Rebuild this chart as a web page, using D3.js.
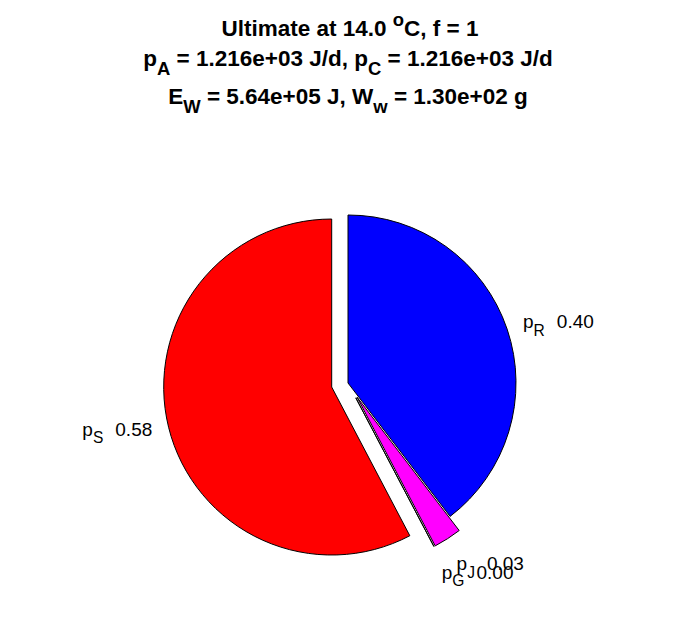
<!DOCTYPE html>
<html>
<head>
<meta charset="utf-8">
<script src="https://cdn.jsdelivr.net/npm/d3@7"></script>
<style>
  html, body { margin: 0; padding: 0; background: #fff; }
  svg { display: block; }
</style>
</head>
<body>
<svg id="chart" width="696" height="618"></svg>
<script>
// ---- data ----
const categories = ["S", "G", "J", "R"];
const values = [0.577, 0.0, 0.027, 0.396];
const colors = ["#ff0000", "#00ff00", "#ff00ff", "#0000ff"];
const exploded = [true, true, true, false];

const titleLine1 = [{t: "Ultimate at 14.0 "}, {t: "o", sup: true}, {t: "C, f = 1"}];
const titleLine2 = [{t: "p"}, {t: "A", sub: true}, {t: " = 1.216e+03 J/d, p"}, {t: "C", sub: true}, {t: " = 1.216e+03 J/d"}];
const titleLine3 = [{t: "E"}, {t: "W", sub: true}, {t: " = 5.64e+05 J, W"}, {t: "w", sub: true}, {t: " = 1.30e+02 g"}];

// ---- layout ----
const W = 696, H = 618;
const cx = 348, cy = 383;
const rScale = d3.scaleLinear().domain([0, 1]).range([0, 168]);

const svg = d3.select("#chart");

// title
const titleFs = 22.5;
function drawRich(g, parts, x, y, fs, weight, anchor) {
  const t = g.append("text")
    .attr("x", x).attr("y", y)
    .attr("text-anchor", anchor)
    .attr("font-family", "'Liberation Sans', Arial, Helvetica, sans-serif")
    .attr("font-weight", weight)
    .attr("font-size", fs)
    .attr("fill", "#000")
    .attr("xml:space", "preserve");
  let shift = 0;
  parts.forEach(p => {
    let target = 0, size = fs;
    if (p.sub) { target = fs * 0.38; size = fs * 0.82; }
    if (p.sup) { target = -fs * 0.45; size = fs * 0.82; }
    const ts = t.append("tspan").text(p.t).attr("font-size", size);
    if (target !== shift) { ts.attr("dy", target - shift); shift = target; }
    if (p.dx) ts.attr("dx", p.dx);
  });
  return t;
}

const tg = svg.append("g");
drawRich(tg, titleLine1, cx + 2, 36, titleFs, "bold", "middle");
drawRich(tg, titleLine2, cx, 66, titleFs, "bold", "middle");
drawRich(tg, titleLine3, cx, 104, titleFs, "bold", "middle");

// pie (counter-clockwise from top, like MATLAB)
const pie = d3.pie().sort(null).value(d => d.v).startAngle(0).endAngle(-2 * Math.PI);
const data = categories.map((c, i) => ({c, v: values[i], color: colors[i], ex: exploded[i]}));
const arcs = pie(data);

const arc = d3.arc().innerRadius(0).outerRadius(rScale(1));
const fmt = d3.format(".2f");
const labelFs = 19;

const pg = svg.append("g").attr("transform", `translate(${cx},${cy})`);

arcs.forEach(a => {
  const m = (a.startAngle + a.endAngle) / 2;
  const ux = Math.sin(m), uy = -Math.cos(m);
  const off = a.data.ex ? rScale(0.1) : 0;
  const ox = ux * off, oy = uy * off;
  pg.append("path")
    .attr("d", arc(a))
    .attr("transform", `translate(${ox},${oy})`)
    .attr("fill", a.data.color)
    .attr("stroke", "#000")
    .attr("stroke-width", 1)
    .attr("stroke-linejoin", "miter");
});

// labels
arcs.forEach(a => {
  const m = (a.startAngle + a.endAngle) / 2;
  const ux = Math.sin(m), uy = -Math.cos(m);
  const off = a.data.ex ? rScale(0.1) : 0;
  const lx = ux * off + ux * rScale(1.1);
  const ly = uy * off + uy * rScale(1.1);
  const anchor = ux >= 0 ? "start" : "end";
  let base;
  if (uy > Math.abs(ux)) base = ly + 4 + labelFs * 0.716;       // top aligned
  else if (-uy > Math.abs(ux)) base = ly - 4;                    // bottom aligned
  else base = ly + labelFs * 0.25;                               // middle
  const parts = [{t: "p"}, {t: a.data.c, sub: true}, {t: fmt(a.data.v), dx: 12}];
  drawRich(pg, parts, lx, base, labelFs, "normal", anchor);
});
</script>
</body>
</html>
